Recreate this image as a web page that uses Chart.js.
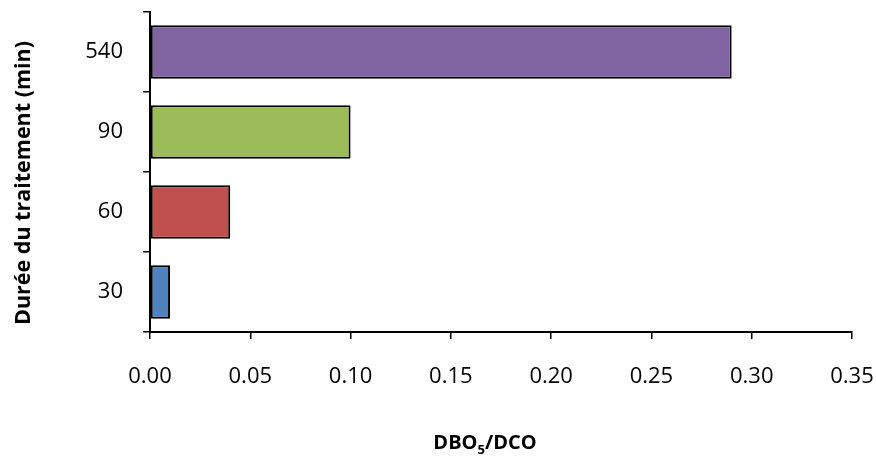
<!DOCTYPE html>
<html>
<head>
<meta charset="utf-8">
<script src="https://cdn.jsdelivr.net/npm/chart.js@4/dist/chart.umd.min.js"></script>
<style>
  html, body { margin:0; padding:0; background:#fff; }
  #wrap { width:876px; height:456px; }
</style>
</head>
<body>
<div id="wrap"><canvas id="chart" width="876" height="456"></canvas></div>
<script>
// === DATA ===
const durations = ['540', '90', '60', '30'];
const ratios = [0.29, 0.10, 0.04, 0.01];
const barColors = ['#8064A2', '#9BBB59', '#C0504D', '#4F81BD'];
const xTicks = [0, 0.05, 0.10, 0.15, 0.20, 0.25, 0.30, 0.35];

const yTitle = 'Durée du traitement (min)';
const xTitleMain = ['DBO', '5', '/DCO'];

const FONT = "'Open Sans', 'Noto Sans', sans-serif";

// axis titles drawn by hand (subscript in DBO5)
const titlesPlugin = {
  id: 'titles',
  afterDraw(chart){
    const ctx = chart.ctx;
    ctx.save();
    ctx.fillStyle = '#000';
    // x title
    ctx.font = 'bold 20px ' + FONT;
    const subFont = 'bold 13px ' + FONT;
    const w1 = ctx.measureText(xTitleMain[0]).width;
    const w3 = ctx.measureText(xTitleMain[2]).width;
    ctx.font = subFont;
    const w2 = ctx.measureText(xTitleMain[1]).width;
    const total = w1 + w2 + w3;
    let x = 485 - total/2;
    const base = 449;
    ctx.textBaseline = 'alphabetic';
    ctx.textAlign = 'left';
    ctx.font = 'bold 20px ' + FONT;
    ctx.fillText(xTitleMain[0], x, base);
    x += w1;
    ctx.font = subFont;
    ctx.fillText(xTitleMain[1], x, base + 5);
    x += w2;
    ctx.font = 'bold 20px ' + FONT;
    ctx.fillText(xTitleMain[2], x, base);

    // y title
    ctx.translate(24, 183);
    ctx.rotate(-Math.PI/2);
    ctx.font = 'bold 21.5px ' + FONT;
    ctx.textAlign = 'center';
    ctx.textBaseline = 'middle';
    ctx.fillText(yTitle, 0, 0);
    ctx.restore();
  }
};

function noPad(scale){
  scale.paddingTop = 0; scale.paddingBottom = 0;
  scale.paddingLeft = 0; scale.paddingRight = 0;
}

const ctx = document.getElementById('chart').getContext('2d');
new Chart(ctx, {
  type: 'bar',
  data: {
    labels: durations,
    datasets: [{
      data: ratios,
      backgroundColor: barColors,
      borderColor: '#000',
      borderWidth: 2,
      borderSkipped: false,
      categoryPercentage: 1,
      barPercentage: 0.67
    }]
  },
  options: {
    indexAxis: 'y',
    responsive: false,
    animation: false,
    layout: { padding: { top: 12, right: 24, left: 0, bottom: 0 } },
    plugins: { legend: { display: false }, tooltip: { enabled: false } },
    scales: {
      x: {
        min: 0, max: 0.35,
        afterBuildTicks(scale){ scale.ticks = xTicks.map(v => ({ value: v })); },
        afterFit(scale){ scale.height = 456 - 332; noPad(scale); },
        ticks: {
          callback: v => Number(v).toFixed(2),
          color: '#000',
          font: { family: FONT, size: 22 },
          padding: 25,
          maxRotation: 0
        },
        grid: { drawOnChartArea: false, tickLength: 7, color: '#000', lineWidth: 1.5 },
        border: { color: '#000', width: 2 }
      },
      y: {
        afterFit(scale){ scale.width = 150; noPad(scale); },
        ticks: {
          color: '#000',
          font: { family: FONT, size: 22 },
          padding: 20
        },
        grid: { drawOnChartArea: false, tickLength: 7, color: '#000', lineWidth: 1.5, offset: true },
        border: { color: '#000', width: 2 }
      }
    }
  },
  plugins: [titlesPlugin]
});
</script>
</body>
</html>
